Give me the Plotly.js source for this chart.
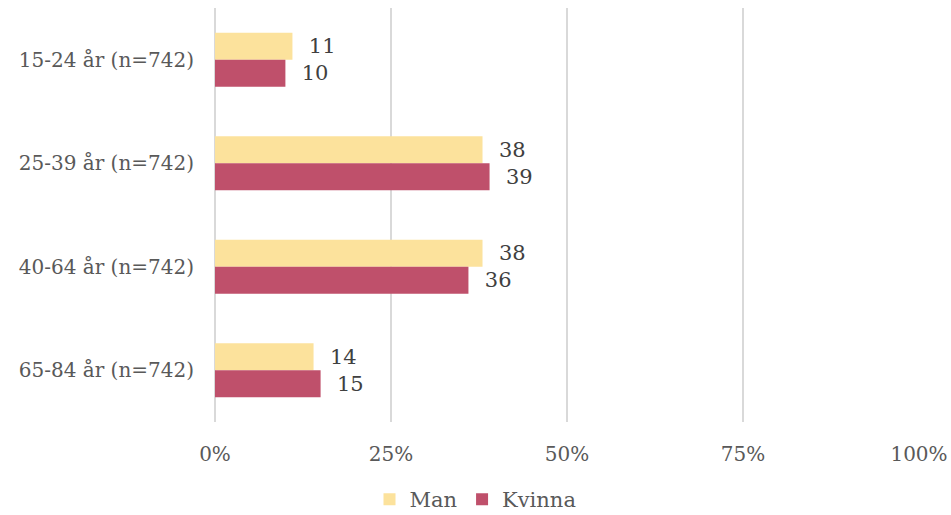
<!DOCTYPE html>
<html><head><meta charset="utf-8">
<script src="https://cdn.plot.ly/plotly-3.0.1.min.js"></script>
<style>body{margin:0}#c{width:951px;height:515px}</style>
</head><body><div id="c"></div>
<script>
const categories = ["15-24 år (n=742)", "25-39 år (n=742)", "40-64 år (n=742)", "65-84 år (n=742)"];
const manValues = [11, 38, 38, 14];
const kvinnaValues = [10, 39, 36, 15];
const xTickVals = [0, 25, 50, 75, 100];
const xTickText = ["0%", "25%", "50%", "75%", "100%"];

const font = "DejaVu Serif, Georgia, serif";
const txtColor = "#595959";
function trace(name, vals, color) {
  return {
    type: "bar", orientation: "h", name: name,
    x: vals, y: categories,
    marker: {color: color},
    text: vals.map(v => "  " + v), textposition: "outside",
    textfont: {family: font, size: 21, color: "#404040"},
    cliponaxis: false,
    hoverinfo: "skip"
  };
}
const data = [trace("Man", manValues, "#FCE29C"), trace("Kvinna", kvinnaValues, "#BF506B")];
const layout = {
  width: 951, height: 515,
  margin: {l: 215, r: 32, t: 8, b: 93, autoexpand: false},
  barmode: "group", bargap: 0.48, bargroupgap: 0,
  paper_bgcolor: "#fff", plot_bgcolor: "#fff",
  font: {family: font, color: txtColor, size: 20},
  xaxis: {range: [0, 100], tickvals: xTickVals, ticktext: xTickText,
    showgrid: true, gridcolor: "#d9d9d9", gridwidth: 2,
    zeroline: true, zerolinecolor: "#d9d9d9", zerolinewidth: 2,
    showline: false, ticks: "", ticklabelstandoff: 18,
    tickfont: {family: font, size: 20, color: txtColor}, fixedrange: true},
  yaxis: {type: "category", autorange: "reversed", showgrid: false, zeroline: false,
    showline: false, ticks: "", ticklabelstandoff: 20,
    tickfont: {family: font, size: 20, color: txtColor}},
  legend: {orientation: "h", xref: "container", yref: "container", x: 0.5, xanchor: "center", y: 0.03, yanchor: "middle",
    font: {family: font, size: 21, color: txtColor}, itemwidth: 30, traceorder: "normal"},
  showlegend: true
};
Plotly.newPlot("c", data, layout, {staticPlot: true});
</script></body></html>
